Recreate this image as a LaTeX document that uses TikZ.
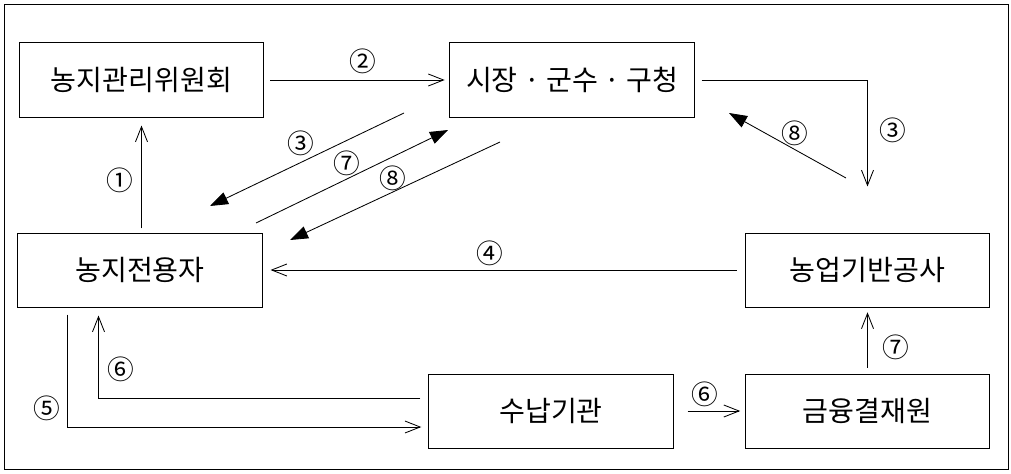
\documentclass[tikz,border=0pt]{standalone}
\usepackage{fontspec}
\setmainfont{Noto Sans CJK KR}
\usetikzlibrary{positioning,arrows.meta}

\begin{document}
\begin{tikzpicture}[x=0.025cm,y=-0.025cm,
  box/.style={draw,line width=0.7pt,minimum width=6.1cm,minimum height=1.85cm,inner sep=0pt,font=\fontsize{20}{24}\selectfont},
  flow/.style={line width=0.6pt,-{Straight Barb[length=3.8mm,width=3mm]}},
  back/.style={line width=0.6pt,-{Triangle[length=4.5mm,width=3.2mm]}},
  num/.style={font=\fontsize{19}{19}\selectfont,inner sep=0pt}]
\useasboundingbox (0,0) rectangle (1011,473);
\draw[line width=0.7pt] (4,4) rectangle (1008,469);
\node[box] (wiwon) at (141.5,80) {농지관리위원회};
\node[box] (sigun) at (572,80) {시장 · 군수 · 구청};
\node[box] (jeonyong) at (140,270) {농지전용자};
\node[box] (gongsa) at (867.5,270) {농업기반공사};
\node[box] (sunap) at (551,411) {수납기관};
\node[box] (gyeoljae) at (867.5,411) {금융결재원};
% straight flows
\draw[flow,shorten <=0.1cm,shorten >=0.2cm] (wiwon.south |- jeonyong.north) -- (wiwon.south);
\draw[flow,shorten <=0.15cm,shorten >=0.12cm] (wiwon) -- (sigun);
\draw[flow,shorten <=0.18cm,shorten >=1.15cm] (sigun.east) -| (gongsa.north);
\draw[flow,shorten <=0.2cm,shorten >=0.2cm] (gongsa) -- (jeonyong);
\draw[flow,shorten <=0.18cm,shorten >=0.18cm] ([xshift=1.25cm]jeonyong.south west) |- ([yshift=-0.4cm]sunap.west);
\draw[flow,shorten <=0.2cm,shorten >=0.2cm] ([yshift=0.325cm]sunap.west) -| ([xshift=2.025cm]jeonyong.south west);
\draw[flow,shorten <=0.35cm,shorten >=0.12cm] (sunap) -- (gyeoljae);
\draw[flow,shorten <=0.15cm,shorten >=0.12cm] (gyeoljae) -- (gongsa);
% diagonal flows
\coordinate (s3) at (404,113);
\coordinate (j3) at (210,206);
\coordinate (j7) at (256,223);
\coordinate (s7) at (448,130);
\coordinate (s8) at (500,142);
\coordinate (j8) at (290,240);
\coordinate (g8) at (846,178);
\coordinate (t8) at (729,113);
\draw[back] (s3) -- (j3);
\draw[back] (j7) -- (s7);
\draw[back] (s8) -- (j8);
\draw[back] (g8) -- (t8);
% step numbers
\node[num] (n1) at (120,180) {①};
\node[num] (n2) at (363,61) {②};
\node[num] (n3a) at (301,143) {③};
\node[num] (n7a) at (347,163) {⑦};
\node[num] (n8a) at (393,178) {⑧};
\node[num] (n8b) at (795,133) {⑧};
\node[num] (n3b) at (893,130) {③};
\node[num] (n4) at (490,253) {④};
\node[num] (n5) at (47,408) {⑤};
\node[num] (n6a) at (121,369) {⑥};
\node[num] (n6b) at (705,394) {⑥};
\node[num] (n7b) at (896,347) {⑦};
\end{tikzpicture}
\end{document}
